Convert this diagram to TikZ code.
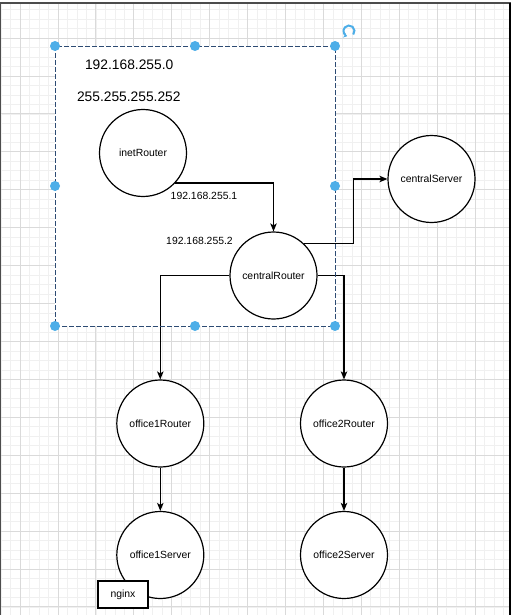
\documentclass[tikz,border=0pt]{standalone}
\usepackage{fontspec}
\setmainfont{Liberation Sans}
\usetikzlibrary{arrows.meta}
\definecolor{handleblue}{RGB}{77,174,232}
\definecolor{gridminor}{RGB}{240,240,240}
\definecolor{gridmajor}{RGB}{218,218,218}
\definecolor{selline}{RGB}{45,75,115}
\tikzset{
  router/.style={draw, circle, fill=white, line width=1.2pt,
    minimum size=87pt, inner sep=0pt, font=\fontsize{10.4}{12}\selectfont},
  iplabel/.style={inner sep=0pt, font=\fontsize{10.4}{12}\selectfont},
  netlabel/.style={inner sep=0pt, font=\fontsize{13.8}{16}\selectfont},
  tagbox/.style={draw, fill=white, line width=1.2pt, minimum width=50pt,
    minimum height=27pt, inner sep=0pt, font=\fontsize{10.4}{12}\selectfont},
  link/.style={line width=1.2pt, -{Stealth[length=8pt,width=6.5pt,inset=2pt]}},
  handle/.style={fill=handleblue}
}
\begin{document}
\begin{tikzpicture}[x=1pt,y=-1pt]
  \useasboundingbox (0,0) rectangle (513,615);
  % canvas grid
  \foreach \i [evaluate=\i as \gx using 1.04+\i*9.48] in {0,...,53}
    \draw[gridminor,line width=0.6pt] (\gx,4) -- (\gx,615);
  \foreach \i [evaluate=\i as \gy using 9.56+\i*9.48] in {0,...,63}
    \draw[gridminor,line width=0.6pt] (1,\gy) -- (510,\gy);
  \foreach \i [evaluate=\i as \gx using 20+\i*37.92] in {0,...,12}
    \draw[gridmajor,line width=0.7pt] (\gx,4) -- (\gx,615);
  \foreach \i [evaluate=\i as \gy using 38+\i*37.92] in {0,...,15}
    \draw[gridmajor,line width=0.7pt] (1,\gy) -- (510,\gy);
  \draw[black!70,line width=2pt] (0,3.5) -- (511,3.5);
  \draw[black!70,line width=1pt] (0.5,3) -- (0.5,615);
  \draw[black,line width=2.2pt] (510,3) -- (510,615);
  % selected area
  \fill[white] (55,46) rectangle (335,326);
  \path (129.2,65) node[netlabel] (net) {192.168.255.0};
  \path (128.8,96.7) node[netlabel] (mask) {255.255.255.252};
  % hosts
  \path (143,153) node[router] (inet) {inetRouter};
  \path (273.5,275.5) node[router] (central) {centralRouter};
  \path (431.5,179) node[router] (srv) {centralServer};
  \path (160.3,423.5) node[router] (o1r) {office1Router};
  \path (344,423.5) node[router] (o2r) {office2Router};
  \path (160.3,555) node[router] (o1s) {office1Server};
  \path (344,555) node[router] (o2s) {office2Server};
  \path (123,594.5) node[tagbox] (nginx) {nginx};
  \path (204,196) node[iplabel] (ipinet) {192.168.255.1};
  \path (199.5,241) node[iplabel] (ipcentral) {192.168.255.2};
  % links
  \draw[link] (inet.-43) -| (central.north);
  \draw[link] (central.46) -- ++(49,0) |- (srv.west);
  \draw[link] (central.west) -| (o1r.north);
  \draw[link] (central.east) -| (o2r.north);
  \draw[link] (o1r) -- (o1s);
  \draw[link] (o2r) -- (o2s);
  % selection frame
  \draw[selline,line width=0.9pt,dash pattern=on 5pt off 2pt] (55,46) rectangle (335,326);
  \foreach \hx/\hy in {55/46,195/46,335/46,55/186,335/186,55/326,195/326,335/326}
    \fill[handle] (\hx,\hy) circle (5);
  \draw[handleblue,line width=2pt,-{Stealth[length=3.5pt,width=5.5pt]}]
    (349,31) ++(40:5.5) arc[start angle=40, end angle=-250, radius=5.5];
\end{tikzpicture}
\end{document}
